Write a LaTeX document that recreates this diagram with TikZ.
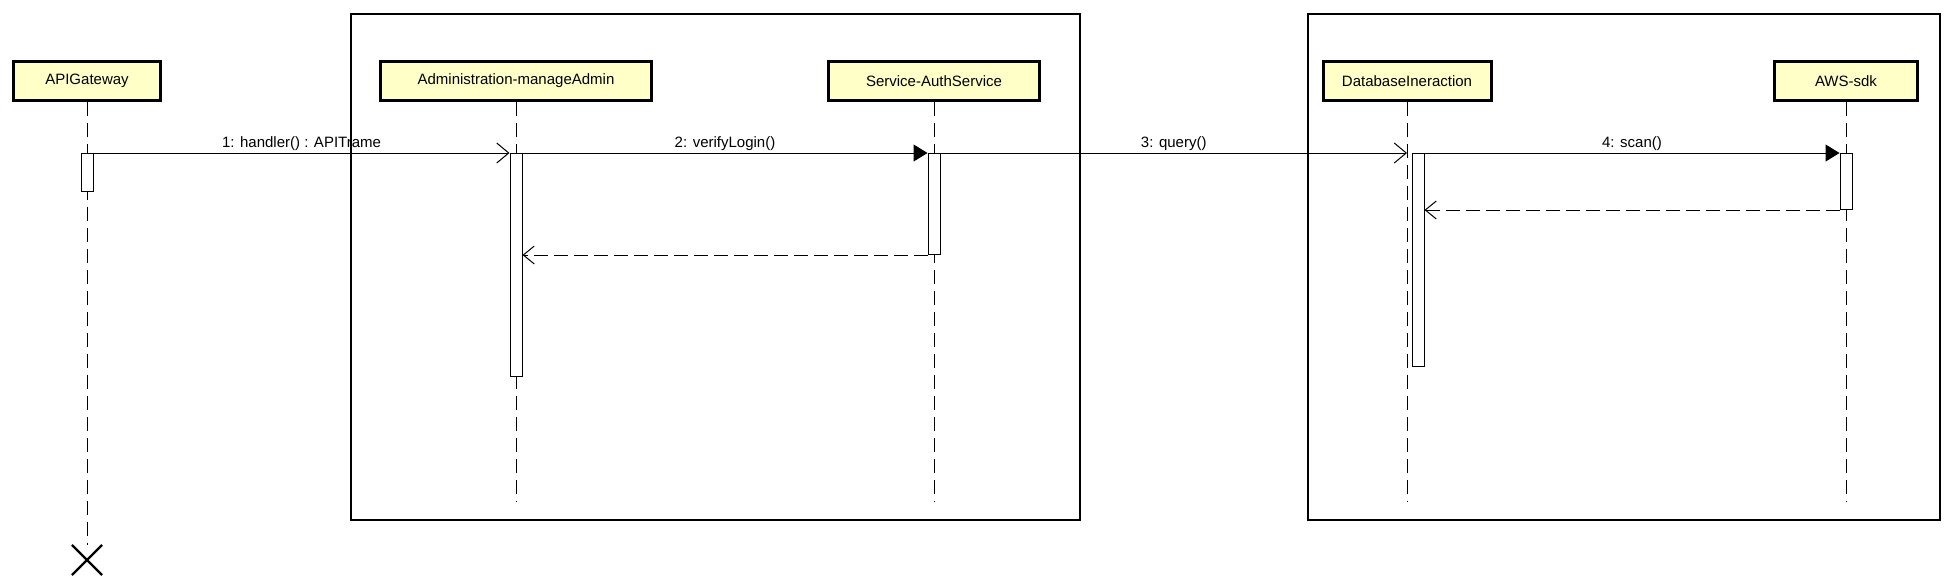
\documentclass[tikz,border=0pt]{standalone}
\usepackage{fontspec}
\setmainfont{Liberation Sans}
\usepackage{tikz}
\usetikzlibrary{arrows.meta,shapes.misc}
\definecolor{headfill}{RGB}{255,255,200}
\tikzset{
    seqhead/.style={draw, line width=3pt, fill=headfill, inner sep=0pt, minimum height=39pt, font=\fontsize{15}{18}\selectfont},
    seqbar/.style={draw, line width=1pt, fill=white, inner sep=0pt, minimum width=12pt, anchor=north},
    seqframe/.style={draw, line width=1.2pt},
    lifeline/.style={line width=1pt, dash pattern=on 14pt off 7pt},
    callmsg/.style={line width=1pt, -{Straight Barb[length=12pt,width=20pt,line width=1pt]}},
    syncmsg/.style={line width=1pt, -{Triangle[length=14pt,width=17pt]}},
    returnmsg/.style={line width=1pt, dash pattern=on 14pt off 6pt, -{Straight Barb[length=11pt,width=18pt,line width=1pt,sharp]}},
    msglabel/.style={above, inner sep=1.5pt, font=\fontsize{15}{18}\selectfont},
    destroymark/.style={cross out, draw, line width=2.2pt, minimum size=28pt, inner sep=0pt}
}
\begin{document}
\begin{tikzpicture}[x=1pt, y=-1pt]
    \useasboundingbox (0,0) rectangle (1954,586);

    % frames
    \draw[seqframe] (351,14) rectangle (1080,520);
    \draw[seqframe] (1308,14) rectangle (1940,520);

    % participants
    \node[seqhead, minimum width=147pt] (gw) at (87,81) {APIGateway};
    \node[seqhead, minimum width=271pt] (admin) at (516,81) {Administration-manageAdmin};
    \node[seqhead, minimum width=211pt] (auth) at (934,81) {Service-AuthService};
    \node[seqhead, minimum width=168pt] (db) at (1407,81) {DatabaseIneraction};
    \node[seqhead, minimum width=143pt] (aws) at (1846,81) {AWS-sdk};

    \coordinate (floor) at (0,502);
    \node[destroymark] (gwend) at (87,560) {};

    % lifelines
    \draw[lifeline] (gw) -- (gwend.north);
    \draw[lifeline] (admin) -- (admin |- floor);
    \draw[lifeline] (auth) -- (auth |- floor);
    \draw[lifeline] (db) -- (db |- floor);
    \draw[lifeline] (aws) -- (aws |- floor);

    % activations
    \node[seqbar, minimum height=38pt] (gwbar) at (87,153) {};
    \node[seqbar, minimum height=223pt] (adminbar) at (516,153) {};
    \node[seqbar, minimum height=101pt] (authbar) at (934,153) {};
    \node[seqbar, minimum height=213pt] (dbbar) at (1418,153) {};
    \node[seqbar, minimum height=56pt] (awsbar) at (1846,153) {};

    % messages
    \draw[callmsg] (gwbar.north east) -- node[msglabel]{1: handler() : APITrame} (adminbar.north west);
    \draw[syncmsg] (adminbar.north east) -- node[msglabel]{2: verifyLogin()} (authbar.north west);
    \draw[callmsg] (authbar.north east) -- node[msglabel]{3: query()} (db |- dbbar.north);
    \draw[syncmsg] (dbbar.north east) -- node[msglabel]{4: scan()} (awsbar.north west);
    \draw[returnmsg] (awsbar.south west) -- (dbbar.east |- awsbar.south);
    \draw[returnmsg] (authbar.south west) -- (adminbar.east |- authbar.south);
\end{tikzpicture}
\end{document}
